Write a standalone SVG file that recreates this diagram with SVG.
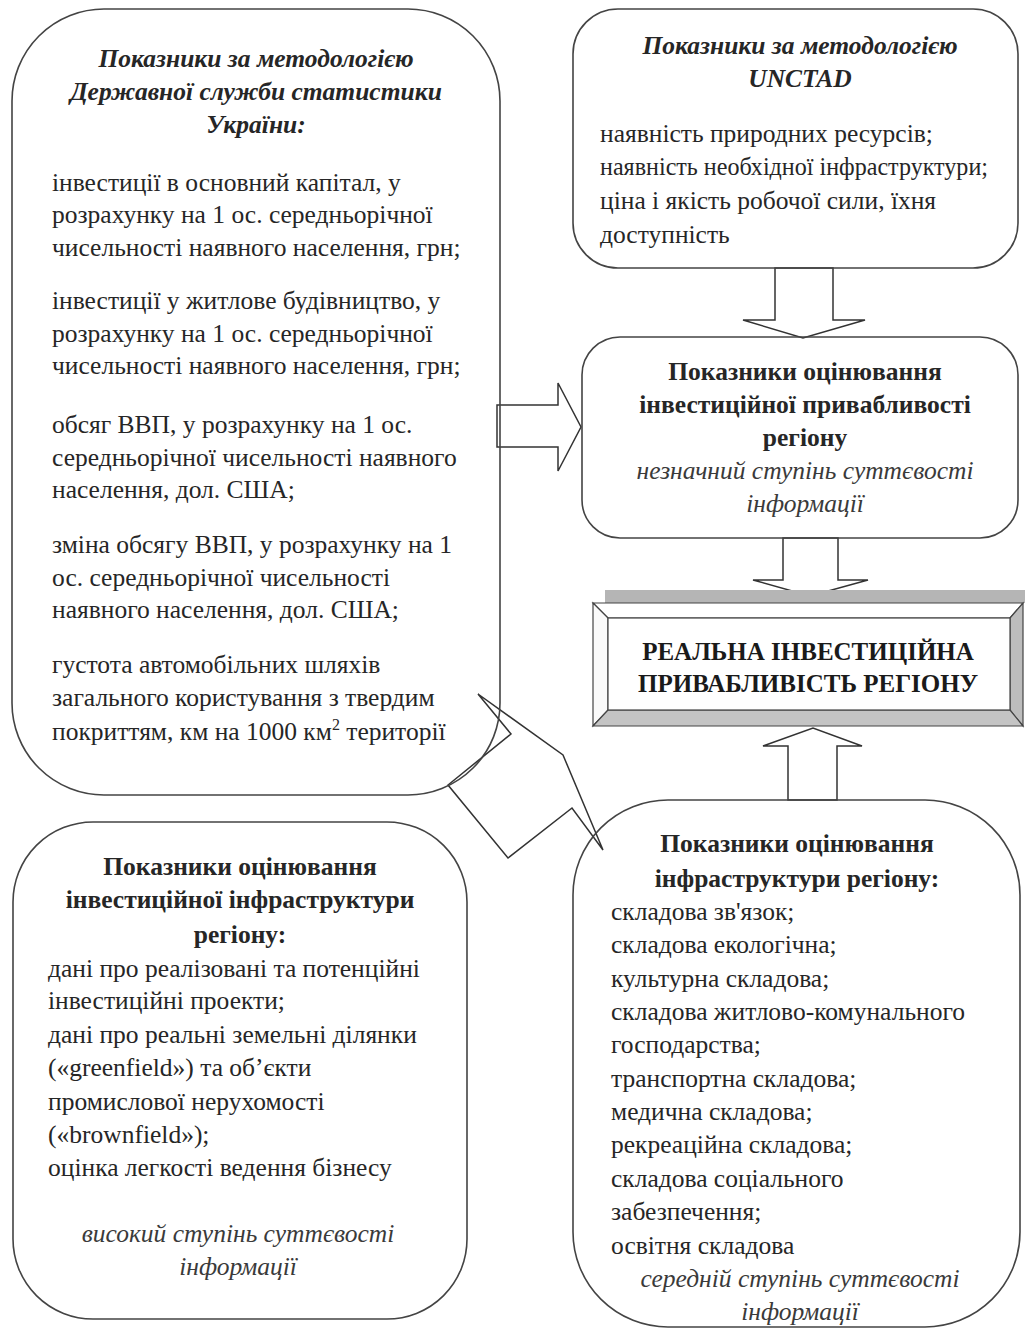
<svg xmlns="http://www.w3.org/2000/svg" width="1025" height="1331" viewBox="0 0 1025 1331">
<style>
text{font-family:"Liberation Serif","Times New Roman",serif;font-size:25.5px;fill:#262626}
.t{font-weight:bold;font-style:italic;text-anchor:middle}
.b{font-weight:bold;text-anchor:middle}
.i{font-style:italic;text-anchor:middle;fill:#3a3a3a}
.c{font-weight:bold;text-anchor:middle;font-size:25px;fill:#1a1a1a}
.box{fill:none;stroke:#444;stroke-width:1.6}
.arr{fill:#fff;stroke:#333;stroke-width:1.5;stroke-linejoin:miter}
</style>
<rect width="1025" height="1331" fill="#fff"/>
<g id="connectors">
<polygon class="arr" points="497,405 558,405 558,383 581,427 558,471 558,447 497,447"/>
<polygon class="arr" points="775,268 833,268 833,320 865,320 803,338 743,320 775,320"/>
<polygon class="arr" points="783,538 838,538 838,580 868,580 810,596 753,580 783,580"/>
<polygon class="arr" points="788,800 837,800 837,746 862,746 813,728 763,746 788,746"/>
<polygon class="arr" points="478,694 563,755 603,850 572,808 508,858 448,785 511,734"/>
</g>
<g id="node-gosstat">
<rect class="box" x="12" y="9" width="488" height="786" rx="92" ry="92"/>
<text class="t" x="256" y="67">Показники за методологією</text>
<text class="t" x="256" y="100">Державної служби статистики</text>
<text class="t" x="256" y="133">України:</text>
<text x="52" y="191">інвестиції в основний капітал, у</text>
<text x="52" y="223">розрахунку на 1 ос. середньорічної</text>
<text x="52" y="256">чисельності наявного населення, грн;</text>
<text x="52" y="309">інвестиції у житлове будівництво, у</text>
<text x="52" y="342">розрахунку на 1 ос. середньорічної</text>
<text x="52" y="374">чисельності наявного населення, грн;</text>
<text x="52" y="433">обсяг ВВП, у розрахунку на 1 ос.</text>
<text x="52" y="466">середньорічної чисельності наявного</text>
<text x="52" y="498">населення, дол. США;</text>
<text x="52" y="553">зміна обсягу ВВП, у розрахунку на 1</text>
<text x="52" y="586">ос. середньорічної чисельності</text>
<text x="52" y="618">наявного населення, дол. США;</text>
<text x="52" y="673">густота автомобільних шляхів</text>
<text x="52" y="706">загального користування з твердим</text>
<text x="52" y="740">покриттям, км на 1000 км<tspan font-size="16" dy="-10">2</tspan><tspan dy="10"> території</tspan></text>
</g>
<g id="node-unctad">
<rect class="box" x="573" y="9" width="445" height="259" rx="45" ry="45"/>
<text class="t" x="800" y="54">Показники за методологією</text>
<text class="t" x="800" y="87">UNCTAD</text>
<text x="600" y="142">наявність природних ресурсів;</text>
<text x="600" y="175" textLength="388" lengthAdjust="spacingAndGlyphs">наявність необхідної інфраструктури;</text>
<text x="600" y="209">ціна і якість робочої сили, їхня</text>
<text x="600" y="243">доступність</text>
</g>
<g id="node-attract">
<rect class="box" x="582" y="337" width="436" height="201" rx="38" ry="38"/>
<text class="b" x="805" y="380">Показники оцінювання</text>
<text class="b" x="805" y="413">інвестиційної привабливості</text>
<text class="b" x="805" y="446">регіону</text>
<text class="i" x="805" y="479">незначний ступінь суттєвості</text>
<text class="i" x="805" y="512">інформації</text>
</g>
<g id="node-real">
<rect x="605" y="590" width="420" height="13" fill="#b5b5b5"/>
<polygon points="593,603 1023,603 1010,618 608,618" fill="#fff" stroke="#444" stroke-width="1.2"/>
<polygon points="593,603 608,618 608,710 593,726" fill="#fafafa" stroke="#444" stroke-width="1.2"/>
<polygon points="1023,603 1023,726 1010,710 1010,618" fill="#bdbdbd" stroke="#444" stroke-width="1.2"/>
<polygon points="593,726 608,710 1010,710 1023,726" fill="#c4c4c4" stroke="#444" stroke-width="1.2"/>
<rect x="608" y="618" width="402" height="92" fill="#fff" stroke="#444" stroke-width="1.2"/>
<text class="c" x="808" y="660">РЕАЛЬНА ІНВЕСТИЦІЙНА</text>
<text class="c" x="808" y="692">ПРИВАБЛИВІСТЬ РЕГІОНУ</text>
</g>
<g id="node-investinfra">
<rect class="box" x="13" y="822" width="454" height="497" rx="80" ry="80"/>
<text class="b" x="240" y="875">Показники оцінювання</text>
<text class="b" x="240" y="908">інвестиційної інфраструктури</text>
<text class="b" x="240" y="943">регіону:</text>
<text x="48" y="977">дані про реалізовані та потенційні</text>
<text x="48" y="1009">інвестиційні проекти;</text>
<text x="48" y="1043">дані про реальні земельні ділянки</text>
<text x="48" y="1076">(«greenfield») та об’єкти</text>
<text x="48" y="1110">промислової нерухомості</text>
<text x="48" y="1143">(«brownfield»);</text>
<text x="48" y="1176">оцінка легкості ведення бізнесу</text>
<text class="i" x="238" y="1242">високий ступінь суттєвості</text>
<text class="i" x="238" y="1275">інформації</text>
</g>
<g id="node-infra">
<rect class="box" x="573" y="800" width="447" height="527" rx="95" ry="95"/>
<text class="b" x="797" y="852">Показники оцінювання</text>
<text class="b" x="797" y="887">інфраструктури регіону:</text>
<text x="611" y="920">складова зв'язок;</text>
<text x="611" y="953">складова екологічна;</text>
<text x="611" y="987">культурна складова;</text>
<text x="611" y="1020">складова житлово-комунального</text>
<text x="611" y="1053">господарства;</text>
<text x="611" y="1087">транспортна складова;</text>
<text x="611" y="1120">медична складова;</text>
<text x="611" y="1153">рекреаційна складова;</text>
<text x="611" y="1187">складова соціального</text>
<text x="611" y="1220">забезпечення;</text>
<text x="611" y="1254">освітня складова</text>
<text class="i" x="800" y="1287">середній ступінь суттєвості</text>
<text class="i" x="800" y="1320">інформації</text>
</g>
</svg>
